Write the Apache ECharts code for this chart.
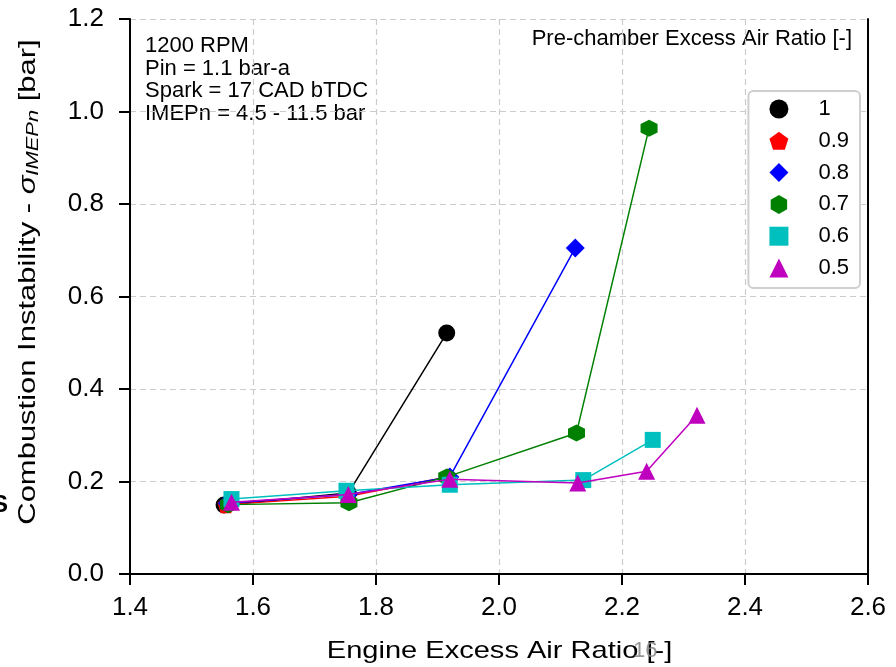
<!DOCTYPE html>
<html><head><meta charset="utf-8">
<script src="https://cdn.jsdelivr.net/npm/echarts@6/dist/echarts.min.js"></script>
<style>html,body{margin:0;padding:0;background:#fff}#c{width:896px;height:667px}</style>
</head><body><div id="c"></div>
<script>
const seriesNames = ['1', '0.9', '0.8', '0.7', '0.6', '0.5'];
const colors = ['#000000', '#ff0000', '#0000ff', '#008000', '#00bfbf', '#bf00bf'];
const s1_x = [1.553, 1.755, 1.915];
const s1_y = [0.149, 0.175, 0.521];
const s09_x = [1.556, 1.755, 1.917];
const s09_y = [0.150, 0.168, 0.210];
const s08_x = [1.558, 1.755, 1.920, 2.124];
const s08_y = [0.153, 0.172, 0.210, 0.705];
const s07_x = [1.560, 1.756, 1.915, 2.126, 2.244];
const s07_y = [0.150, 0.154, 0.210, 0.305, 0.964];
const s06_x = [1.565, 1.752, 1.920, 2.137, 2.250];
const s06_y = [0.162, 0.180, 0.193, 0.203, 0.290];
const s05_x = [1.565, 1.755, 1.920, 2.128, 2.240, 2.322];
const s05_y = [0.155, 0.172, 0.205, 0.197, 0.222, 0.343];
const xTicks = ['1.4', '1.6', '1.8', '2.0', '2.2', '2.4', '2.6'];
const yTicks = ['0.0', '0.2', '0.4', '0.6', '0.8', '1.0', '1.2'];
const annotation = ['1200 RPM', 'Pin = 1.1 bar-a', 'Spark = 17 CAD bTDC', 'IMEPn = 4.5 - 11.5 bar'];
const legendTitle = 'Pre-chamber Excess Air Ratio [-]';
const xTitle = 'Engine Excess Air Ratio [-]';
const yTitle = 'Combustion Instability - {i|σ}{sub|IMEPn} [bar]';

const pentagon = 'path://M0,-1 L0.951,-0.309 L0.588,0.809 L-0.588,0.809 L-0.951,-0.309 Z';
const hexagon = 'path://M0,-1 L0.866,-0.5 L0.866,0.5 L0,1 L-0.866,0.5 L-0.866,-0.5 Z';
const symbols = ['circle', pentagon, 'diamond', hexagon, 'rect', 'triangle'];
const sizes = [17, 17, 19, 17, 16, 17];
const xs = [s1_x, s09_x, s08_x, s07_x, s06_x, s05_x];
const ys = [s1_y, s09_y, s08_y, s07_y, s06_y, s05_y];

const FONT = 'Liberation Sans';
const chart = echarts.init(document.getElementById('c'), null, {renderer: 'canvas'});
const series = seriesNames.map((n, i) => ({
  name: n, type: 'line',
  data: xs[i].map((x, k) => [x, ys[i][k]]),
  symbol: symbols[i], symbolSize: sizes[i], showSymbol: true,
  lineStyle: {color: colors[i], width: 1.5},
  itemStyle: {color: colors[i]},
  emphasis: {disabled: true},
  z: 2 + i, animation: false
}));

const grid = {left: 130, right: 28, top: 19, bottom: 93};
const splitStyle = {show: true, lineStyle: {color: '#cccccc', type: [6, 4], width: 1.2}};
const axisLineStyle = {show: true, lineStyle: {color: '#000', width: 2}};

chart.setOption({
  animation: false,
  grid: grid,
  xAxis: [{
    type: 'value', min: 1.4, max: 2.6, interval: 0.2,
    axisLine: axisLineStyle,
    axisTick: {show: true, length: 11, lineStyle: {color: '#000', width: 2}},
    axisLabel: {color: '#000', fontSize: 26, fontFamily: FONT, margin: 21, formatter: (v) => xTicks[Math.round((v - 1.4) / 0.2)]},
    splitLine: splitStyle
  }, {
    type: 'value', position: 'top', min: 1.4, max: 2.6, interval: 0.2,
    axisLine: axisLineStyle, axisTick: {show: false}, axisLabel: {show: false}, splitLine: {show: false}
  }],
  yAxis: [{
    type: 'value', min: 0, max: 1.2, interval: 0.2,
    axisLine: axisLineStyle,
    axisTick: {show: true, length: 11, lineStyle: {color: '#000', width: 2}},
    axisLabel: {color: '#000', fontSize: 26, fontFamily: FONT, margin: 26, formatter: (v) => yTicks[Math.round(v / 0.2)]},
    splitLine: splitStyle
  }, {
    type: 'value', position: 'right', min: 0, max: 1.2, interval: 0.2,
    axisLine: axisLineStyle, axisTick: {show: false}, axisLabel: {show: false}, splitLine: {show: false}
  }],
  legend: {
    right: 36, top: 91, orient: 'vertical',
    data: seriesNames.map((n, i) => ({name: n, icon: symbols[i]})),
    itemWidth: 19, itemHeight: 19, itemGap: 9.8,
    padding: [7, 11, 9, 21],
    backgroundColor: '#fff', borderColor: '#cfcfcf', borderWidth: 2, borderRadius: 5,
    textStyle: {color: '#000', fontSize: 22, fontFamily: FONT, lineHeight: 19, padding: [0, 0, 0, 25]},
    selectedMode: false
  },
  graphic: [
    {type: 'text', x: 145, y: 35, style: {text: annotation.join('\n'), font: '22px "Liberation Sans"', fill: '#000', lineHeight: 22.5}},
    {type: 'text', x: 852, y: 38.5, style: {text: legendTitle, font: '22px "Liberation Sans"', fill: '#000', align: 'right', verticalAlign: 'middle'}},
    {type: 'text', x: 499.5, y: 651, scaleX: 1.21, style: {text: xTitle, font: '24px "Liberation Sans"', fill: '#000', align: 'center', verticalAlign: 'middle'}},
    {type: 'text', x: 28.5, y: 282, rotation: Math.PI / 2, scaleX: 1.29,
      style: {text: yTitle, font: '24px "Liberation Sans"', fill: '#000', align: 'center', verticalAlign: 'middle',
        rich: {i: {fontSize: 24, fontStyle: 'italic', fontFamily: FONT, fill: '#000'},
               sub: {fontSize: 17, fontStyle: 'italic', fontFamily: FONT, fill: '#000', padding: [9, 0, 0, 0]}}}},
    {type: 'text', x: 633, y: 651, style: {text: '16', font: '22px "Liberation Sans"', fill: '#8a8a8a', opacity: 0.9, verticalAlign: 'middle'}, z: 100},
    {type: 'text', x: -8, y: 505, style: {text: 'S', font: 'bold 24px "Liberation Sans"', fill: '#000', verticalAlign: 'middle'}}
  ],
  series: series
});
</script></body></html>
